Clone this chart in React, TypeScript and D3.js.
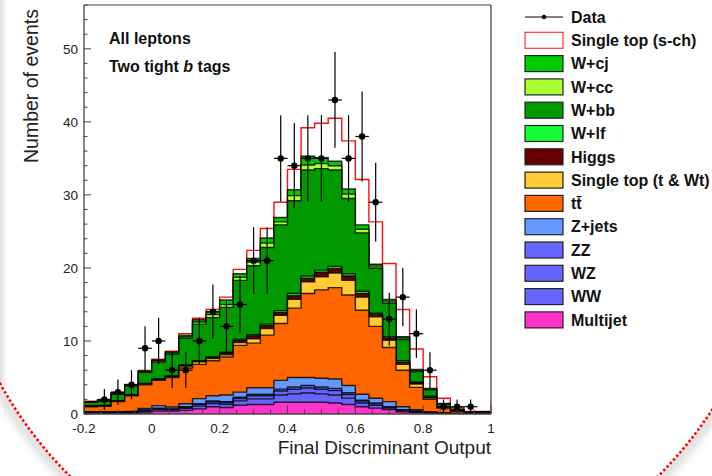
import React from 'react';
import * as d3 from 'd3';

// ---------- data ----------
const binCenters = [
  -0.18, -0.14, -0.10, -0.06, -0.02, 0.02, 0.06, 0.10, 0.14, 0.18,
  0.22, 0.26, 0.30, 0.34, 0.38, 0.42, 0.46, 0.50, 0.54, 0.58,
  0.62, 0.66, 0.70, 0.74, 0.78, 0.82, 0.86, 0.90, 0.94, 0.98,
];
const dataCounts = [0, 2, 3, 4, 9, 10, 6, 6, 10, 14, 12, 15, 21, 21, 35, 34, 35, 35, 43, 35, 38, 29, 13, 16, 11, 6, 1, 1, 1, 0];

const multijet = [.05, .05, .08, .1, .15, .4, .4, .5, .7, 1.0, .9, 1.2, 1.3, 1.3, 1.6, 1.6, 1.6, 1.6, 1.5, 1.3, 1.0, .8, .6, .3, .2, .1, .05, .02, .01, .01];
const ww = [.11, .11, .11, .11, .22, .22, .17, .28, .38, .44, .44, .6, .77, .77, 1.0, 1.15, 1.27, 1.15, 1.1, .88, .5, .38, .22, .17, .11, .06, .03, .02, .01, .01];
const wz = [.06, .06, .06, .06, .12, .12, .09, .15, .21, .24, .24, .33, .42, .42, .54, .63, .69, .63, .6, .48, .27, .21, .12, .09, .06, .03, .01, .01, .01, 0];
const zz = [.03, .03, .03, .03, .06, .06, .04, .07, .11, .12, .12, .17, .21, .21, .26, .32, .34, .32, .3, .24, .13, .11, .06, .04, .03, .01, .01, 0, 0, 0];
const zjets = [.05, .05, .05, .05, .2, .35, .25, .4, .7, .7, .9, .7, .9, .9, 1.2, 1.3, 1.1, 1.2, 1.3, 1.0, .8, .65, .7, .4, .2, .1, .05, .02, .01, .01];
const ttbar = [.7, .75, 1.37, 2.15, 3.25, 3.45, 4.05, 4.9, 4.7, 4.8, 5.2, 6.4, 6.1, 7.2, 7.8, 9.5, 11.5, 12.1, 12.5, 12.4, 11.5, 9.85, 7.4, 5.0, 3.05, 1.7, .65, .28, .11, .17];
const singleTopTW = [.05, .05, .05, .05, .1, .1, .1, .25, .35, .3, .3, .4, .6, .9, 1.1, 1.2, 1.6, 1.8, 2.0, 2.0, 1.8, 1.3, 1.0, .8, .45, .2, .1, .05, .02, .02];
const higgs = [.02, .02, .03, .03, .03, .05, .05, .1, .1, .15, .25, .3, .4, .4, .4, .5, .5, .6, .6, .6, .5, .3, .3, .3, .2, .15, .05, .03, .01, .01];
const wlf = [.05, .05, .05, .05, .05, .05, .05, .05, .05, .05, .1, .15, .15, .2, .25, .3, .3, .3, .3, .3, .3, .2, .2, .2, .1, .1, .05, .02, .01, .01];
const wbb = [.48, .58, .87, 1.22, 1.52, 2.3, 3.0, 3.7, 5.0, 5.4, 6.15, 8.05, 9.45, 10.5, 11.75, 12.7, 14.5, 13.9, 13.2, 10.3, 8.0, 6.2, 4.6, 2.9, 1.4, .85, .35, .15, .03, .03];
const wcc = [.05, .07, .1, .08, .1, .15, .15, .2, .3, .4, .4, .4, .5, .6, .4, .7, .7, .7, .6, .6, .5, .25, .25, .2, .15, .1, .05, .03, .01, .01];
const wcj = [.05, .08, .1, .07, .1, .15, .15, .2, .3, .4, .6, .5, .5, .7, .6, .8, 1.2, .8, .6, .7, .6, .25, .25, .2, .15, .1, .05, .03, .01, .01];
const singleTopS = [.05, .05, .05, .05, .05, .1, .1, .2, .2, .3, .4, .6, 1.1, 1.3, 2.1, 2.8, 3.9, 4.7, 5.9, 6.6, 6.2, 5.8, 4.9, 3.7, 2.8, 1.6, .7, .24, .11, .06];

const xTickValues = [-0.2, 0, 0.2, 0.4, 0.6, 0.8, 1.0];
const xTickLabels = ['-0.2', '0', '0.2', '0.4', '0.6', '0.8', '1'];
const yTickValues = [0, 10, 20, 30, 40, 50];

// stacking order bottom -> top
const seriesKeys = ['multijet', 'ww', 'wz', 'zz', 'zjets', 'ttbar', 'stTW', 'higgs', 'wlf', 'wbb', 'wcc', 'wcj', 'stS'];
const seriesArrays: Record<string, number[]> = {
  multijet, ww, wz, zz, zjets, ttbar, stTW: singleTopTW, higgs, wlf, wbb, wcc, wcj, stS: singleTopS,
};
const seriesColors: Record<string, string> = {
  multijet: '#ff33cc', ww: '#6666ff', wz: '#6666ff', zz: '#6666ff', zjets: '#6699ff',
  ttbar: '#ff6600', stTW: '#ffcc33', higgs: '#660000', wlf: '#11ff33', wbb: '#009900',
  wcc: '#aaff33', wcj: '#00cc00', stS: '#ffffff',
};

const legendLabels = ['Data', 'Single top (s-ch)', 'W+cj', 'W+cc', 'W+bb', 'W+lf', 'Higgs', 'Single top (t & Wt)', 'tt\u0304', 'Z+jets', 'ZZ', 'WZ', 'WW', 'Multijet'];
const legendKeys = ['data', 'stS', 'wcj', 'wcc', 'wbb', 'wlf', 'higgs', 'stTW', 'ttbar', 'zjets', 'zz', 'wz', 'ww', 'multijet'];

// ---------- layout ----------
const W = 712, H = 476;
const x = d3.scaleLinear().domain([-0.2, 1.0]).range([84, 491]);
const y = d3.scaleLinear().domain([0, 56]).range([414, 5]);
const HALF = 0.02;
const FONT = "'Liberation Sans', Arial, Helvetica, sans-serif";

function stepPath(vals: number[]): string {
  let p = `M${x(binCenters[0] - HALF)},${y(0)}`;
  vals.forEach((v, i) => {
    p += `V${y(v)}H${x(binCenters[i] + HALF)}`;
  });
  p += `V${y(0)}`;
  return p;
}

export default function App() {
  const rows = binCenters.map((c, i) => {
    const r: Record<string, number> = { c };
    seriesKeys.forEach((k) => (r[k] = seriesArrays[k][i]));
    return r;
  });
  const stacked = d3.stack<Record<string, number>>().keys(seriesKeys)(rows);
  const layers = stacked.map((s) => ({ key: s.key, tops: s.map((d) => d[1]) })).reverse();

  const xMinor = d3.range(-0.2, 1.0001, 0.05);
  const yMinor = d3.range(0, 56.001, 2);

  return (
    <svg width={W} height={H} style={{ position: 'fixed', left: 0, top: 0, background: '#fff' }} fontFamily={FONT}>
      <defs>
        <filter id="blur" x="-20%" y="-20%" width="140%" height="140%">
          <feGaussianBlur stdDeviation="4" />
        </filter>
        <linearGradient id="leftShade" x1="0" x2="1" y1="0" y2="0">
          <stop offset="0" stopColor="#000" stopOpacity="0.13" />
          <stop offset="1" stopColor="#000" stopOpacity="0" />
        </linearGradient>
        <clipPath id="plotClip">
          <rect x={84} y={5} width={407} height={409} />
        </clipPath>
      </defs>
      <rect x={0} y={0} width={W} height={H} fill="#fff" />
      {/* decorative circle frame */}
      <circle cx={364} cy={182} r={420} fill="none" stroke="#000" strokeOpacity={0.18} strokeWidth={7} filter="url(#blur)" />
      <circle cx={364} cy={182} r={416} fill="#fff" />
      <rect x={0} y={0} width={7} height={385} fill="url(#leftShade)" />
      <circle cx={364} cy={182} r={416} fill="none" stroke="#ff0000" strokeWidth={2.6} strokeDasharray="2.4 2.4" />

      {/* stacked histograms */}
      <g clipPath="url(#plotClip)">
        {layers.map((l) => (
          <g key={l.key}>
            <path d={stepPath(l.tops) + 'Z'} fill={seriesColors[l.key]} stroke="none" />
            <path d={stepPath(l.tops)} fill="none"
              stroke={l.key === 'stS' ? '#ff0000' : '#000'}
              strokeOpacity={l.key === 'stS' ? 0.95 : 0.8}
              strokeWidth={1.4} />
          </g>
        ))}
        {/* data points */}
        {dataCounts.map((n, i) => {
          if (n <= 0) return null;
          const e = Math.sqrt(n);
          const cx = x(binCenters[i]);
          return (
            <g key={'d' + i}>
              <line x1={cx} x2={cx} y1={y(n - e)} y2={y(n + e)} stroke="#000" strokeWidth={1.2} />
              <line x1={x(binCenters[i] - HALF)} x2={x(binCenters[i] + HALF)} y1={y(n)} y2={y(n)} stroke="#000" strokeWidth={1.2} />
              <circle cx={cx} cy={y(n)} r={3.2} fill="#000" />
            </g>
          );
        })}
      </g>

      {/* frame */}
      <line x1={84} x2={491} y1={5} y2={5} stroke="#808080" strokeWidth={1.5} />
      <line x1={491} x2={491} y1={5} y2={414} stroke="#333" strokeWidth={1.2} />
      <line x1={84} x2={84} y1={5} y2={414} stroke="#444" strokeWidth={1.3} />
      <line x1={84} x2={491} y1={414} y2={414} stroke="#444" strokeWidth={1.3} />

      {/* y ticks */}
      {yMinor.map((v) => {
        const major = Math.abs(v % 10) < 1e-6;
        return <line key={'ym' + v} x1={84} x2={84 + (major ? 7 : 3.5)} y1={y(v)} y2={y(v)} stroke="#444" strokeWidth={1} />;
      })}
      {yTickValues.map((v) => (
        <text key={'yl' + v} x={78} y={y(v)} dy="0.36em" textAnchor="end" fontSize={13.5} fill="#222">{v}</text>
      ))}
      {/* x ticks */}
      {xMinor.map((v, i) => {
        const major = i % 4 === 0;
        return <line key={'xm' + i} x1={x(v)} x2={x(v)} y1={414} y2={414 - (major ? 9 : 4.5)} stroke="#444" strokeWidth={1} />;
      })}
      {xTickValues.map((v, i) => (
        <text key={'xl' + i} x={x(v)} y={432.5} textAnchor="middle" fontSize={13.5} fill="#222">{xTickLabels[i]}</text>
      ))}

      {/* axis titles */}
      <text x={491} y={454} textAnchor="end" fontSize={19} fill="#222">Final Discriminant Output</text>
      <text transform="translate(38,163) rotate(-90)" x={0} y={0} textAnchor="start" fontSize={19.5} fill="#222">Number of events</text>

      {/* annotations */}
      <text x={109} y={43.5} fontSize={16} fontWeight="bold" fill="#111">All leptons</text>
      <text x={109} y={72} fontSize={16} fontWeight="bold" fill="#111">Two tight <tspan fontStyle="italic">b</tspan> tags</text>

      {/* legend */}
      {legendKeys.map((k, i) => {
        const cy = 17 + i * 23.3;
        return (
          <g key={'lg' + k}>
            {k === 'data' ? (
              <g>
                <line x1={525} x2={563} y1={cy} y2={cy} stroke="#000" strokeWidth={1.2} />
                <circle cx={544} cy={cy} r={2.2} fill="#000" />
              </g>
            ) : (
              <rect x={525} y={cy - 8} width={38} height={16} fill={seriesColors[k]}
                stroke={k === 'stS' ? '#ff3333' : '#222'} strokeWidth={1.2} />
            )}
            <text x={571} y={cy} dy="0.36em" fontSize={16} fontWeight="bold" fill="#111">{legendLabels[i]}</text>
          </g>
        );
      })}
    </svg>
  );
}
